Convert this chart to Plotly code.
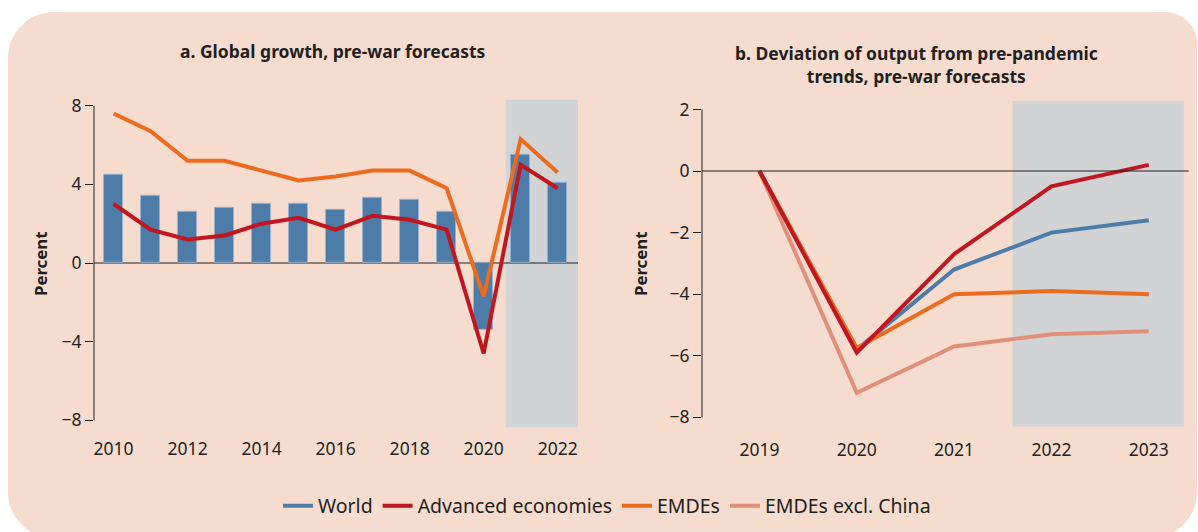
import plotly.graph_objects as go

# ---------------- data ----------------
years_a = [2010, 2011, 2012, 2013, 2014, 2015, 2016, 2017, 2018, 2019, 2020, 2021, 2022]
world_a = [4.5, 3.4, 2.6, 2.8, 3.0, 3.0, 2.7, 3.3, 3.2, 2.6, -3.4, 5.5, 4.1]
adv_a = [3.0, 1.7, 1.2, 1.4, 2.0, 2.3, 1.7, 2.4, 2.2, 1.7, -4.6, 5.0, 3.8]
emde_a = [7.6, 6.7, 5.2, 5.2, 4.7, 4.2, 4.4, 4.7, 4.7, 3.8, -1.7, 6.3, 4.6]

years_b = [2019, 2020, 2021, 2022, 2023]
world_b = [0.0, -5.8, -3.2, -2.0, -1.6]
adv_b = [0.0, -5.9, -2.7, -0.5, 0.2]
emde_b = [0.0, -5.75, -4.0, -3.9, -4.0]
emde_xc_b = [0.0, -7.2, -5.7, -5.3, -5.2]

ticks_a_x = [2010, 2012, 2014, 2016, 2018, 2020, 2022]
ticks_a_y = [-8, -4, 0, 4, 8]
ticks_b_y = [-8, -6, -4, -2, 0, 2]

title_a = "a. Global growth, pre-war forecasts"
title_b = "b. Deviation of output from pre-pandemic<br>trends, pre-war forecasts"

# ---------------- style ----------------
W, H = 1198, 532
FONT = "Noto Sans"
TXT = "#231F20"
BLUE = "#4E7CA8"
RED = "#C1161F"
ORANGE = "#EC6B1E"
SALMON = "#E0907A"
PEACH = "#F5DCCF"
SHADE = "#D1D3D4"


def X(px):
    return px / W


def Y(py):
    return 1 - py / H


def minus(v):
    return str(v).replace("-", "\u2212")


fig = go.Figure()

# Panel a
fig.add_trace(go.Bar(x=years_a, y=world_a, name="World", marker=dict(color=BLUE, line=dict(color="rgba(150,180,210,0.9)", width=1)),
                     width=0.5, showlegend=False, xaxis="x", yaxis="y"))
fig.add_trace(go.Scatter(x=years_a, y=emde_a, mode="lines", line=dict(color=ORANGE, width=4), name="EMDEs",
                         showlegend=False, xaxis="x", yaxis="y"))
fig.add_trace(go.Scatter(x=years_a, y=adv_a, mode="lines", line=dict(color=RED, width=4), name="Advanced economies",
                         showlegend=False, xaxis="x", yaxis="y"))

# Panel b
fig.add_trace(go.Scatter(x=years_b, y=emde_xc_b, mode="lines", line=dict(color=SALMON, width=4), name="EMDEs excl. China",
                         legendrank=4, xaxis="x2", yaxis="y2"))
fig.add_trace(go.Scatter(x=years_b, y=world_b, mode="lines", line=dict(color=BLUE, width=4), name="World",
                         legendrank=1, xaxis="x2", yaxis="y2"))
fig.add_trace(go.Scatter(x=years_b, y=emde_b, mode="lines", line=dict(color=ORANGE, width=4), name="EMDEs",
                         legendrank=3, xaxis="x2", yaxis="y2"))
fig.add_trace(go.Scatter(x=years_b, y=adv_b, mode="lines", line=dict(color=RED, width=4), name="Advanced economies",
                         legendrank=2, xaxis="x2", yaxis="y2"))

# background rounded panel
L, T, R, B = 8, 12, 1197, 538
r1, r2 = 46, 32
k = 0.4477
path = (
    f"M {X(L + r1)},{Y(T)} L {X(R - r2)},{Y(T)} "
    f"C {X(R - r2 * k)},{Y(T)} {X(R)},{Y(T + r2 * k)} {X(R)},{Y(T + r2)} "
    f"L {X(R)},{Y(B - r1)} "
    f"C {X(R)},{Y(B - r1 * k)} {X(R - r1 * k)},{Y(B)} {X(R - r1)},{Y(B)} "
    f"L {X(L + r1)},{Y(B)} "
    f"C {X(L + r1 * k)},{Y(B)} {X(L)},{Y(B - r1 * k)} {X(L)},{Y(B - r1)} "
    f"L {X(L)},{Y(T + r1)} "
    f"C {X(L)},{Y(T + r1 * k)} {X(L + r1 * k)},{Y(T)} {X(L + r1)},{Y(T)} Z"
)
shapes = [
    dict(type="path", xref="paper", yref="paper", path=path, fillcolor=PEACH, line=dict(width=0), layer="below"),
    # forecast shading
    dict(type="rect", xref="x", yref="y domain", x0=2020.6, x1=2022.55, y0=0, y1=1, fillcolor=SHADE,
         line=dict(width=0), layer="below"),
    dict(type="rect", xref="x2", yref="y2 domain", x0=2021.6, x1=2023.36, y0=0, y1=1, fillcolor=SHADE,
         line=dict(width=0), layer="below"),
    # y axis lines spanning tick range
    dict(type="line", xref="x domain", yref="y", x0=0, x1=0, y0=-8, y1=8, line=dict(color=TXT, width=1)),
    dict(type="line", xref="x2 domain", yref="y2", x0=0, x1=0, y0=-8, y1=2, line=dict(color=TXT, width=1)),
    # zero lines
    dict(type="line", xref="x domain", yref="y", x0=0, x1=1, y0=0, y1=0, line=dict(color=TXT, width=1.2), layer="below"),
    dict(type="line", xref="x2 domain", yref="y2", x0=0, x1=1, y0=0, y1=0, line=dict(color=TXT, width=1.2)),
]

TITLE_SIZE = 17.5
annotations = [
    dict(text="<b>" + title_a + "</b>", x=X(333), y=Y(51), xref="paper", yref="paper", showarrow=False,
         font=dict(family=FONT, size=TITLE_SIZE, color=TXT), xanchor="center", yanchor="middle"),
    dict(text="<b>" + title_b + "</b>", x=X(916), y=Y(65), xref="paper", yref="paper", showarrow=False,
         font=dict(family=FONT, size=TITLE_SIZE, color=TXT), xanchor="center", yanchor="middle", align="center"),
    dict(text="<b>Percent</b>", x=X(40), y=Y(264), xref="paper", yref="paper", showarrow=False, textangle=-90,
         font=dict(family=FONT, size=16.8, color=TXT), xanchor="center", yanchor="middle"),
    dict(text="<b>Percent</b>", x=X(640), y=Y(264), xref="paper", yref="paper", showarrow=False, textangle=-90,
         font=dict(family=FONT, size=16.8, color=TXT), xanchor="center", yanchor="middle"),
]

tickfont = dict(family=FONT, size=17.5, color=TXT)
common = dict(showgrid=False, zeroline=False, showline=False, automargin=False, fixedrange=True, tickfont=tickfont)

fig.update_layout(
    width=W, height=H,
    autosize=False,
    margin=dict(l=0, r=0, t=0, b=0, pad=0, autoexpand=False),
    paper_bgcolor="white",
    plot_bgcolor="rgba(0,0,0,0)",
    shapes=shapes,
    annotations=annotations,
    bargap=0,
    xaxis=dict(domain=[X(94), X(578)], range=[2009.47, 2022.55], tickvals=ticks_a_x,
               ticktext=[str(v) for v in ticks_a_x], ticks="outside", ticklen=6,
               tickcolor="rgba(0,0,0,0)", **common),
    yaxis=dict(domain=[Y(427.2), Y(99.8)], range=[-8.35, 8.3], tickvals=ticks_a_y,
               ticktext=[minus(v) for v in ticks_a_y], ticks="outside", ticklen=8, tickwidth=1,
               tickcolor=TXT, **common),
    xaxis2=dict(domain=[X(702), X(1188.7)], range=[2018.41, 2023.41], tickvals=years_b,
                ticktext=[str(v) for v in years_b], ticks="outside", ticklen=7,
                tickcolor="rgba(0,0,0,0)", anchor="y2", **common),
    yaxis2=dict(domain=[Y(426.6), Y(101.1)], range=[-8.3, 2.27], tickvals=ticks_b_y,
                ticktext=[minus(v) for v in ticks_b_y], ticks="outside", ticklen=8, tickwidth=1,
                tickcolor=TXT, anchor="x2", **common),
    legend=dict(orientation="h", x=X(607), y=Y(506), xanchor="center", yanchor="middle",
                bgcolor="rgba(0,0,0,0)", font=dict(family=FONT, size=19.5, color=TXT),
                itemwidth=30, traceorder="normal"),
)

fig.write_html("out.html", config={"displayModeBar": False},
               post_script="document.body.style.margin='0';document.body.style.padding='0';")
